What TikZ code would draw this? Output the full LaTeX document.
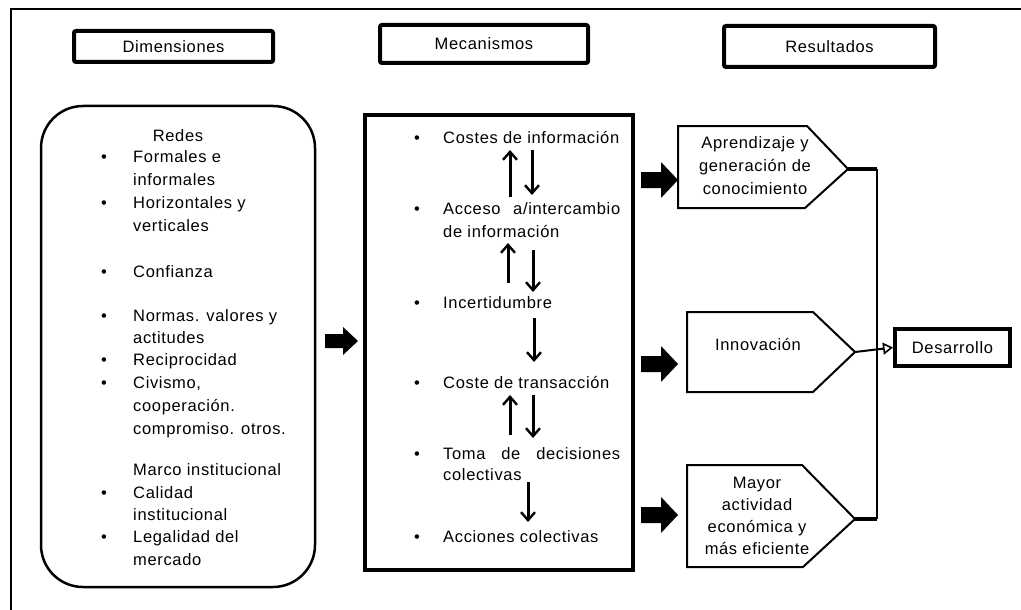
\documentclass[tikz,border=0pt]{standalone}
\usepackage{fontspec}
\setmainfont{Liberation Sans}[LetterSpace=4]
\usetikzlibrary{arrows.meta}
\begin{document}
\begin{tikzpicture}[x=1pt,y=-1pt,
  txt/.style={font=\fontsize{16.5}{23}\selectfont, inner sep=0pt},
  bl/.style={txt, anchor=base west},
  bc/.style={txt, anchor=base},
  hdr/.style={draw, line width=4pt, rounded corners=2pt, txt},
  shape5/.style={draw, line width=2pt, line join=miter},
  vlink/.style={line width=3pt, -{Straight Barb[length=8pt,width=14pt,line width=2.4pt]}},
  link/.style={line width=2.5pt}
]
\useasboundingbox (0,0) rectangle (1021,610);

% outer frame
\draw[line width=1.5pt] (1021,9) -- (11,9) -- (11,610);

% column headers
\node[hdr, minimum width=199pt, minimum height=31pt] (hdim) at (173.5,46.5) {Dimensiones};
\node[hdr, minimum width=208pt, minimum height=38pt] (hmec) at (484,44) {Mecanismos};
\node[hdr, minimum width=211pt, minimum height=41pt] (hres) at (829.5,46.5) {Resultados};

% dimensions box
\draw[line width=2.5pt, rounded corners=42pt] (41,106) rectangle (315,587);
\node[bc] (redes) at (178,142) {Redes};
\foreach \y in {162,208,277,321,365,388,498,542}
  \node[bc] at (104,\y) {•};
\node[bl] (d1)  at (133,162) {Formales e};
\node[bl] (d1b) at (133,185) {informales};
\node[bl] (d2)  at (133,208) {Horizontales y};
\node[bl] (d2b) at (133,231) {verticales};
\node[bl] (d3)  at (133,277) {Confianza};
\node[bl] (d4)  at (133,321) {Normas. valores y};
\node[bl] (d4b) at (133,343) {actitudes};
\node[bl] (d5)  at (133,365) {Reciprocidad};
\node[bl] (d6)  at (133,388) {Civismo,};
\node[bl] (d6b) at (133,411) {cooperación.};
\node[bl] (d6c) at (133,434) {compromiso. otros.};
\node[bl] (marco) at (133,475) {Marco institucional};
\node[bl] (d7)  at (133,498) {Calidad};
\node[bl] (d7b) at (133,520) {institucional};
\node[bl] (d8)  at (133,542) {Legalidad del};
\node[bl] (d8b) at (133,565) {mercado};

% arrow into mechanisms
\fill (325,334) -- (343,334) -- (343,327) -- (358,341) -- (343,355) -- (343,348) -- (325,348) -- cycle;

% mechanisms box
\draw[line width=4pt] (365,115) rectangle (633,570);
\foreach \y in {143,214,308,388,459,542}
  \node[bc] at (417,\y) {•};
\node[bl] (m1)  at (443,143) {Costes de información};
\node[bl] (m2)  at (443,214) {\hbox to 177pt{Acceso\hfill a/intercambio}};
\node[bl] (m2b) at (443,237) {de información};
\node[bl] (m3)  at (443,308) {Incertidumbre};
\node[bl] (m4)  at (443,388) {Coste de transacción};
\node[bl] (m5)  at (443,459) {\hbox to 177pt{Toma\hfill de\hfill decisiones}};
\node[bl] (m5b) at (443,480) {colectivas};
\node[bl] (m6)  at (443,542) {Acciones colectivas};

% links between mechanisms
\draw[vlink] (510,197) -- (510,150);
\draw[vlink] (532,150) -- (532,195);
\draw[vlink] (508,283) -- (508,243);
\draw[vlink] (533,250) -- (533,292);
\draw[vlink] (534,318) -- (534,362);
\draw[vlink] (510,435) -- (510,395);
\draw[vlink] (533,395) -- (533,438);
\draw[vlink] (528,482) -- (528,522);

% arrows from mechanisms to results
\foreach \c in {180,364,515}
  \fill (641,\c-8) -- (661,\c-8) -- (661,\c-18) -- (678,\c) -- (661,\c+18) -- (661,\c+8) -- (641,\c+8) -- cycle;

% results
\draw[shape5] (678,126) -- (807,126) -- (848,169) -- (805,208) -- (678,208) -- cycle;
\coordinate (r1) at (848,169);
\node[txt, align=center] (res1) at (755,166) {Aprendizaje y\\generación de\\conocimiento};

\draw[shape5] (687,312) -- (813,312) -- (855,352) -- (813,392) -- (687,392) -- cycle;
\coordinate (r2) at (855,352);
\node[txt] (res2) at (758,345) {Innovación};

\draw[shape5] (687,465) -- (802,465) -- (855,519) -- (803,567) -- (687,567) -- cycle;
\coordinate (r3) at (855,519);
\node[txt, align=center, font=\fontsize{16.5}{22}\selectfont] (res3) at (757,516) {Mayor\\actividad\\económica y\\más eficiente};

% development
\node[hdr, rounded corners=0pt, minimum width=115pt, minimum height=37pt] (des) at (952.5,347.5) {Desarrollo};

\coordinate (j1) at (877,169);
\coordinate (j3) at (877,519);
\draw[line width=4pt] (r1) -- (j1);
\draw[line width=4pt] (r3) -- (j3);
\draw[link] (j1) -- (j3);
\draw[line width=2pt, -{Triangle[open,length=10pt,width=12pt,line width=1.6pt]}] (r2) -- (des.west);
\end{tikzpicture}
\end{document}
